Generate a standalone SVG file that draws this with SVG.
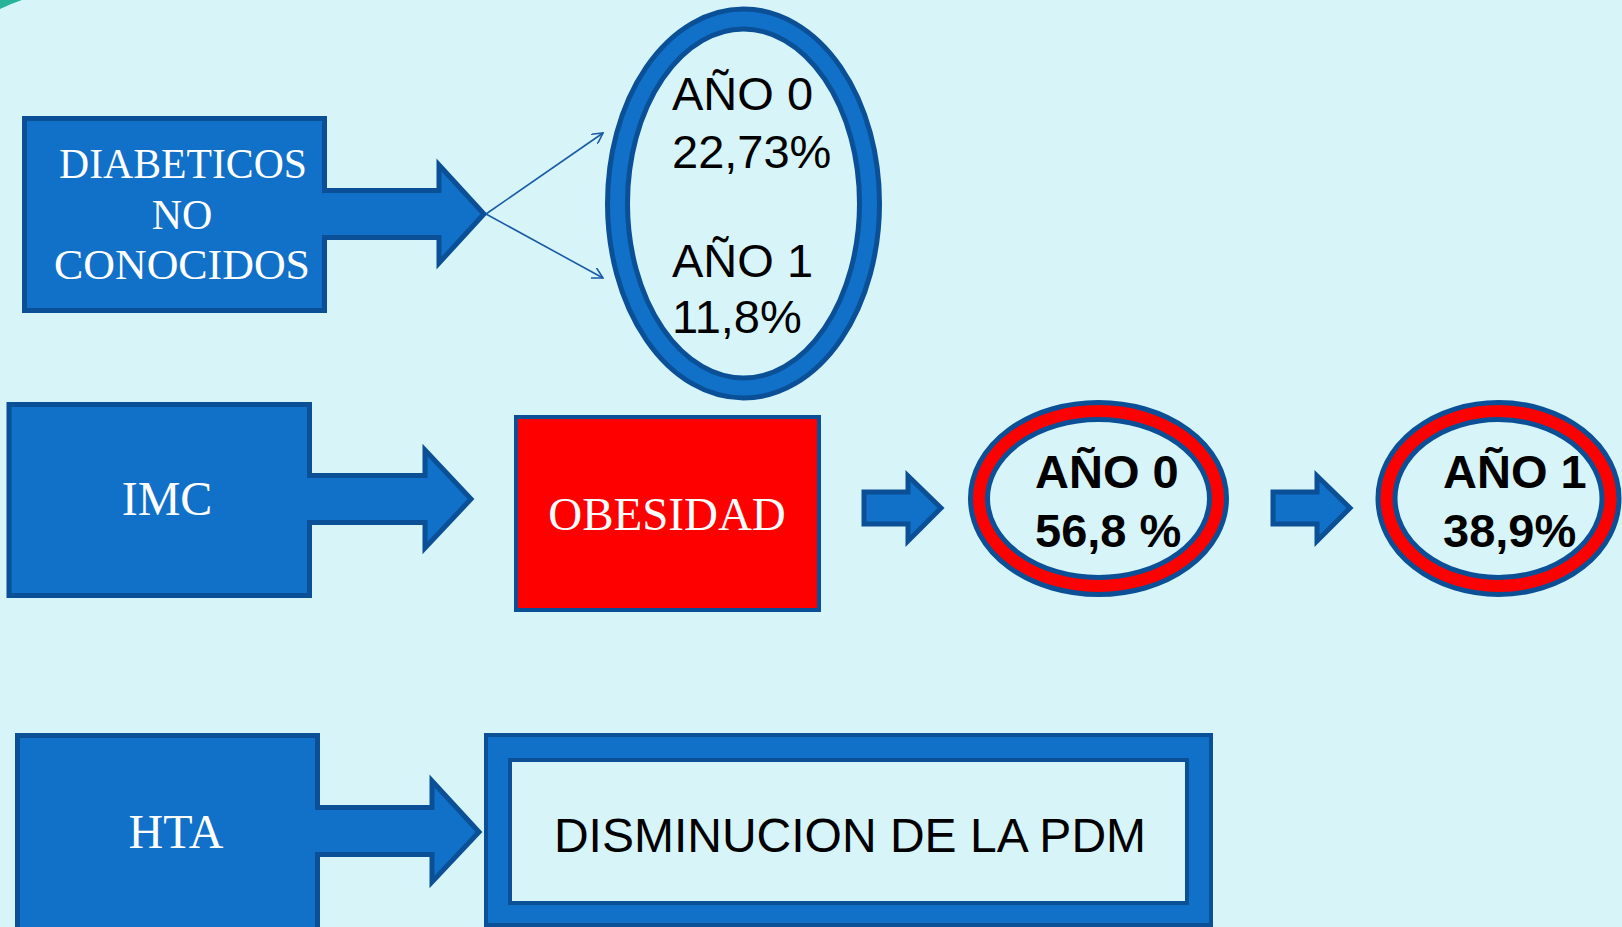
<svg xmlns="http://www.w3.org/2000/svg" width="1622" height="927" viewBox="0 0 1622 927">
<defs>
<style>
.blk{fill:#1170c8;stroke:#0b5096;stroke-width:5;stroke-linejoin:miter}
.ser{font-family:"Liberation Serif","Times New Roman",serif;fill:#ffffff;text-anchor:middle}
.san{font-family:"Liberation Sans",Arial,sans-serif;fill:#000000}
.bold{font-weight:bold}
.thin{fill:none;stroke:#1a5aa6;stroke-width:1.6}
</style>
<marker id="open" viewBox="0 0 12 12" refX="11" refY="6" markerWidth="12" markerHeight="12" markerUnits="userSpaceOnUse" orient="auto">
<path d="M0,0 L11,6 L0,12" fill="none" stroke="#1a5aa6" stroke-width="1.6"/>
</marker>
</defs>
<rect x="0" y="0" width="1622" height="927" fill="#d7f5f8"/>
<path d="M0,9 Q10,4 22,0 L0,0 Z" fill="#26b39a"/>

<g id="diabeticos">
<path class="blk" d="M24.5,118.5 L324.5,118.5 L324.5,190.5 L439,190.5 L439,165 L484,214 L439,263 L439,237.5 L324.5,237.5 L324.5,310.5 L24.5,310.5 Z"/>
<text class="ser" x="183" y="178" font-size="42" textLength="248" lengthAdjust="spacingAndGlyphs">DIABETICOS</text>
<text class="ser" x="182" y="229" font-size="42">NO</text>
<text class="ser" x="182" y="279" font-size="42" textLength="256" lengthAdjust="spacingAndGlyphs">CONOCIDOS</text>
</g>

<g id="ellipse-anos">
<ellipse cx="743.5" cy="203.5" rx="126" ry="184.5" fill="none" stroke="#0b5096" stroke-width="25"/>
<ellipse cx="743.5" cy="203.5" rx="126" ry="184.5" fill="none" stroke="#1170c8" stroke-width="15"/>
<text class="san" x="672" y="110" font-size="47">AÑO 0</text>
<text class="san" x="672" y="168" font-size="47">22,73%</text>
<text class="san" x="672" y="277" font-size="47">AÑO 1</text>
<text class="san" x="672" y="333" font-size="47">11,8%</text>
</g>

<g id="imc">
<path class="blk" d="M9,404.5 L309.5,404.5 L309.5,475.5 L425,475.5 L425,450 L471,499 L425,548 L425,522.5 L309.5,522.5 L309.5,595.5 L9,595.5 Z"/>
<text class="ser" x="167" y="515" font-size="48">IMC</text>
</g>

<g id="obesidad">
<rect x="516" y="417" width="303" height="193" fill="#ff0000" stroke="#0b5096" stroke-width="4"/>
<text class="ser" x="667" y="530" font-size="47">OBESIDAD</text>
</g>

<g id="ano0">
<ellipse cx="1098.5" cy="498.5" rx="119.5" ry="87.5" fill="none" stroke="#0b5096" stroke-width="22"/>
<ellipse cx="1098.5" cy="498.5" rx="119.5" ry="87.5" fill="none" stroke="#ff0000" stroke-width="12"/>
<text class="san bold" x="1035" y="488" font-size="47">AÑO 0</text>
<text class="san bold" x="1035" y="547" font-size="47">56,8 %</text>
</g>

<g id="ano1">
<ellipse cx="1498.5" cy="498.5" rx="112" ry="87.5" fill="none" stroke="#0b5096" stroke-width="22"/>
<ellipse cx="1498.5" cy="498.5" rx="112" ry="87.5" fill="none" stroke="#ff0000" stroke-width="12"/>
<text class="san bold" x="1443" y="488" font-size="47">AÑO 1</text>
<text class="san bold" x="1443" y="547" font-size="47">38,9%</text>
</g>

<g id="hta">
<path class="blk" d="M17.5,735.5 L317.5,735.5 L317.5,807.5 L432,807.5 L432,781 L479,832 L432,882 L432,854.5 L317.5,854.5 L317.5,935 L17.5,935 Z"/>
<text class="ser" x="176" y="848" font-size="48">HTA</text>
</g>

<g id="disminucion">
<rect x="486" y="735" width="725" height="190" fill="#1170c8" stroke="#0b5096" stroke-width="4"/>
<rect x="510" y="760" width="677" height="143" fill="#d7f5f8" stroke="#0b5096" stroke-width="4"/>
<text class="san" x="850" y="852" font-size="48" text-anchor="middle">DISMINUCION DE LA PDM</text>
</g>

<g id="connectors">
<line class="thin" x1="486" y1="214" x2="603" y2="133" marker-end="url(#open)"/>
<line class="thin" x1="486" y1="214" x2="603" y2="278" marker-end="url(#open)"/>
<path class="blk" stroke-width="3" d="M864,492 L908,492 L908,476 L941,508 L908,541 L908,524 L864,524 Z"/>
<path class="blk" stroke-width="3" d="M1273,492 L1317,492 L1317,476 L1350,508 L1317,541 L1317,524 L1273,524 Z"/>
</g>
</svg>
